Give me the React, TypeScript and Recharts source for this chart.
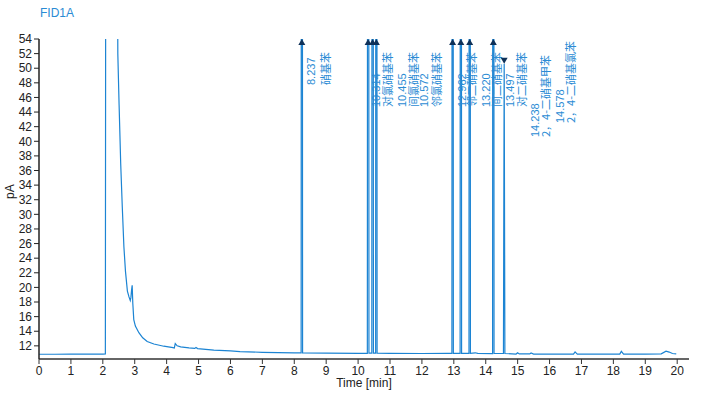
import React from 'react';
import { LineChart, Line, XAxis, YAxis, ReferenceDot } from 'recharts';

// Chromatogram trace (time in min, signal in pA)
const traceTime = [
  0, 0.5, 1.0, 1.5, 2.0, 2.08, 2.1, 2.42, 2.47, 2.51, 2.56, 2.61, 2.66, 2.71, 2.77, 2.82, 2.86, 2.88, 2.9, 2.92, 2.94,
  2.97, 3.02, 3.13, 3.25, 3.39, 3.6, 3.91, 4.2, 4.24, 4.27, 4.33, 4.44, 4.7, 4.88, 4.92, 4.97, 5.48, 6.0, 6.3,
  7.0, 7.5, 8.0, 8.215, 8.237, 8.26, 9.0, 10.0, 10.29, 10.314, 10.34, 10.385, 10.43, 10.455, 10.48, 10.55, 10.572, 10.595,
  11.0, 12.0, 12.8, 12.94, 12.962, 12.985, 13.197, 13.22, 13.243, 13.475, 13.497, 13.52, 13.67, 13.75,
  14.215, 14.238, 14.26, 14.555, 14.578, 14.6, 14.95, 15.0, 15.05, 15.38, 15.42, 15.5, 16.0, 16.75, 16.8, 16.87,
  17.5, 18.2, 18.25, 18.32, 19.0, 19.5, 19.65, 19.75, 19.85, 19.97,
];
const traceSignal = [
  10.85, 10.85, 10.86, 10.87, 10.87, 10.88, 120, 120, 52, 45, 37, 31, 25.6, 22.2, 19.5, 18.7, 18.2, 18.6, 19.6, 20.3, 17.8,
  15.6, 14.7, 13.8, 13.1, 12.6, 12.25, 11.95, 11.75, 11.7, 12.3, 12.0, 11.85, 11.72, 11.65, 11.78, 11.63, 11.42, 11.3, 11.22,
  11.12, 11.08, 11.05, 11.03, 300, 11.03, 11.0, 10.98, 10.98, 300, 10.99, 11.0, 11.0, 300, 11.0, 11.0, 300, 11.0,
  10.97, 10.95, 10.98, 10.98, 300, 10.98, 10.98, 300, 10.98, 10.98, 300, 10.98, 11.05, 10.97,
  10.95, 300, 10.95, 10.95, 50.6, 10.95, 10.88, 11.05, 10.9, 10.9, 11.02, 10.88, 10.87, 10.87, 11.18, 10.87,
  10.86, 10.87, 11.25, 10.88, 10.88, 10.9, 11.28, 11.15, 10.95, 10.9,
];

// Integrated peaks
const peakTimes = [8.237, 10.314, 10.455, 10.572, 12.962, 13.22, 13.497, 14.238, 14.578];
const peakLabels = ['8.237', '10.314', '10.455', '10.572', '12.962', '13.220', '13.497', '14.238', '14.578'];
const peakNames = ['硝基苯', '对氯硝基苯', '间氯硝基苯', '邻氯硝基苯', '邻二硝基苯', '间二硝基苯', '对二硝基苯', '2，4-二硝基甲苯', '2，4-二硝基氯苯'];
const peakMarkerValue = [54, 54, 54, 54, 54, 54, 54, 54, 50.6];
const peakOffScale = [true, true, true, true, true, true, true, true, false];

// Label layout (pixel offsets of the two text lines, and bottom y of the label)
const labelDx1 = [9, 8, 29, 48, 9, 25.5, 40, 42, 56];
const labelDx2 = [23, 19, 40, 59.5, 18, 35, 51, 52, 66];
const labelBottom = [85, 107, 107, 107, 107, 107, 107, 137, 123];

const xTicks = [0, 1, 2, 3, 4, 5, 6, 7, 8, 9, 10, 11, 12, 13, 14, 15, 16, 17, 18, 19, 20];
const yTicks = [12, 14, 16, 18, 20, 22, 24, 26, 28, 30, 32, 34, 36, 38, 40, 42, 44, 46, 48, 50, 52, 54];

const data = traceTime.map((t, i) => ({ t, v: traceSignal[i] }));

const LINE = '#1c84d3';
const TEXT = '#2a8bd4';
const MARK = '#0f3158';

function makeShape(i: number) {
  return (props: any) => {
    const cx = props.cx;
    const cy = props.cy;
    const x1 = cx + labelDx1[i];
    const x2 = cx + labelDx2[i];
    const by = labelBottom[i];
    const tri = peakOffScale[i]
      ? `M${cx - 3.5},${cy + 6} L${cx + 3.5},${cy + 6} L${cx},${cy} Z`
      : `M${cx - 3.5},${cy - 6} L${cx + 3.5},${cy - 6} L${cx},${cy} Z`;
    return (
      <g>
        <path d={tri} fill={MARK} stroke="none" />
        <text
          x={x1}
          y={by}
          transform={`rotate(-90 ${x1} ${by})`}
          textAnchor="start"
          dominantBaseline="central"
          fontFamily="'Liberation Sans', Arial, sans-serif"
          fontSize={11}
          fill={TEXT}
        >
          {peakLabels[i]}
        </text>
        <text
          x={x2}
          y={by}
          transform={`rotate(-90 ${x2} ${by})`}
          textAnchor="start"
          dominantBaseline="central"
          fontFamily="'Noto Sans CJK SC', sans-serif"
          fontSize={11}
          fill={TEXT}
        >
          {peakNames[i]}
        </text>
      </g>
    );
  };
}

export default function App() {
  return (
    <div style={{ position: 'absolute', left: 0, top: 0, width: 717, height: 396, background: '#fff' }}>
      <div
        style={{
          position: 'absolute',
          left: 40,
          top: 6,
          fontFamily: "'Liberation Sans', Arial, sans-serif",
          fontSize: 12,
          color: TEXT,
          lineHeight: '14px',
        }}
      >
        FID1A
      </div>
      <LineChart
        width={717}
        height={396}
        data={data}
        margin={{ top: 39, right: 28, bottom: 7, left: 0 }}
        style={{ fontFamily: "'Liberation Sans', Arial, sans-serif" }}
      >
        <XAxis
          dataKey="t"
          type="number"
          domain={[0, 20.37]}
          ticks={xTicks}
          interval={0}
          allowDataOverflow
          height={30}
          tickSize={5}
          tickMargin={2}
          tick={{ fontSize: 12, fill: '#222' }}
          tickLine={{ stroke: '#333' }}
          axisLine={{ stroke: '#333', strokeWidth: 1.5 }}
          label={{ value: 'Time [min]', position: 'insideBottom', offset: 2, fontSize: 12, fill: '#222' }}
        />
        <XAxis
          xAxisId="top"
          orientation="top"
          type="number"
          domain={[0, 20.37]}
          height={0}
          tick={false}
          tickLine={false}
          axisLine={{ stroke: '#555', strokeWidth: 1.5 }}
        />
        <YAxis
          type="number"
          domain={[10.2, 54]}
          ticks={yTicks}
          interval={0}
          allowDataOverflow
          width={39}
          tickSize={5}
          tickMargin={2}
          tick={{ fontSize: 12, fill: '#222' }}
          tickLine={{ stroke: '#222' }}
          axisLine={{ stroke: '#222', strokeWidth: 1.5 }}
          label={{ value: 'pA', angle: -90, position: 'insideLeft', offset: 10, fontSize: 12, fill: '#222' }}
        />
        <YAxis
          yAxisId="right"
          orientation="right"
          type="number"
          domain={[10.2, 54]}
          width={0}
          tick={false}
          tickLine={false}
          axisLine={{ stroke: '#888', strokeWidth: 2 }}
        />
        <Line
          type="linear"
          dataKey="v"
          stroke={LINE}
          strokeWidth={1.2}
          dot={false}
          isAnimationActive={false}
        />
        {peakTimes.map((t, i) => (
          <ReferenceDot key={t} x={t} y={peakMarkerValue[i]} r={0} ifOverflow="visible" shape={makeShape(i)} />
        ))}
      </LineChart>
    </div>
  );
}
